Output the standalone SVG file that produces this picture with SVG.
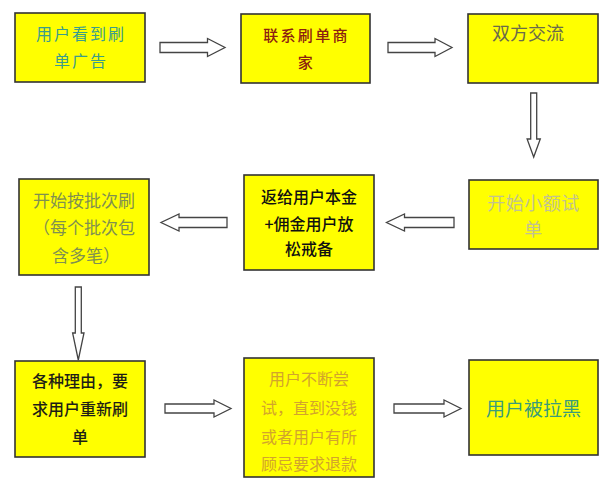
<svg xmlns="http://www.w3.org/2000/svg" width="600" height="488" viewBox="0 0 600 488">
<style>
.box{fill:#ffff00;stroke:#333;stroke-width:1.6}
.arr{fill:#fff;stroke:#444;stroke-width:1.3;stroke-linejoin:miter}
text{font-family:"Noto Sans CJK SC","Noto Sans",sans-serif;text-anchor:middle}
</style>
<rect width="600" height="488" fill="#fff"/>
<g id="connectors">
<path class="arr" d="M160,42.5 H207.5 V38.5 L225,47.5 L207.5,56.5 V52.5 H160 Z"/>
<path class="arr" d="M388,42.5 H435 V38.5 L452,47.5 L435,56.5 V52.5 H388 Z"/>
<path class="arr" d="M530.7,93 H536.7 V139 H540.3 L533.7,157 L527.1,139 H530.7 Z"/>
<path class="arr" d="M227,217.5 H179 V214 L161,222.5 L179,231 V227.5 H227 Z"/>
<path class="arr" d="M454,217.5 H404.5 V214 L386.5,222.5 L404.5,231 V227.5 H454 Z"/>
<path class="arr" d="M75.3,287 H81.3 V333 H84 L78.3,360 L72.6,333 H75.3 Z"/>
<path class="arr" d="M165,404 H214 V400 L231,408.5 L214,417 V413 H165 Z"/>
<path class="arr" d="M394,404 H444 V400 L461,408.5 L444,417 V413 H394 Z"/>
</g>
<g id="n1"><rect class="box" x="15" y="13" width="130" height="69"/>
<text font-size="16" letter-spacing="2" fill="#3a9c8c"><tspan x="81" y="39.5">用户看到刷</tspan><tspan x="81" y="67">单广告</tspan></text></g>
<g id="n2"><rect class="box" x="241" y="14" width="129" height="69"/>
<text font-size="15" letter-spacing="2.3" fill="#8b2010" font-weight="500"><tspan x="306.5" y="41">联系刷单商</tspan><tspan x="306.5" y="67.5">家</tspan></text></g>
<g id="n3"><rect class="box" x="468" y="14" width="130" height="69"/>
<text font-size="18" fill="#6a6a4c"><tspan x="528" y="40">双方交流</tspan></text></g>
<g id="n4"><rect class="box" x="19" y="179" width="130" height="96"/>
<text font-size="17" fill="#7f9050"><tspan x="84" y="206.5">开始按批次刷</tspan><tspan x="84" y="234">（每个批次包</tspan><tspan x="86" y="261.5">含多笔）</tspan></text></g>
<g id="n5"><rect class="box" x="244" y="175" width="130" height="95"/>
<text font-size="16" fill="#111" font-weight="500"><tspan x="309" y="202.8">返给用户本金</tspan><tspan x="309" y="230">+佣金用户放</tspan><tspan x="309" y="255.4">松戒备</tspan></text></g>
<g id="n6"><rect class="box" x="469" y="180" width="129" height="69"/>
<text font-size="18" letter-spacing="0.5" fill="#c2c290"><tspan x="533.5" y="209.5">开始小额试</tspan><tspan x="533.5" y="235.8">单</tspan></text></g>
<g id="n7"><rect class="box" x="15" y="361" width="130" height="96"/>
<text font-size="16" fill="#1e1e16" font-weight="500"><tspan x="80" y="386.8">各种理由，要</tspan><tspan x="80" y="415.4">求用户重新刷</tspan><tspan x="80" y="442.7">单</tspan></text></g>
<g id="n8"><rect class="box" x="244" y="358" width="130" height="119"/>
<text font-size="16" fill="#d2a42c"><tspan x="309" y="385.3">用户不断尝</tspan><tspan x="309" y="414.3">试，直到没钱</tspan><tspan x="309" y="442.7">或者用户有所</tspan><tspan x="309" y="470.3">顾忌要求退款</tspan></text></g>
<g id="n9"><rect class="box" x="469" y="360" width="129" height="95"/>
<text font-size="19" fill="#3a9c7a"><tspan x="533.5" y="416">用户被拉黑</tspan></text></g>
</svg>
